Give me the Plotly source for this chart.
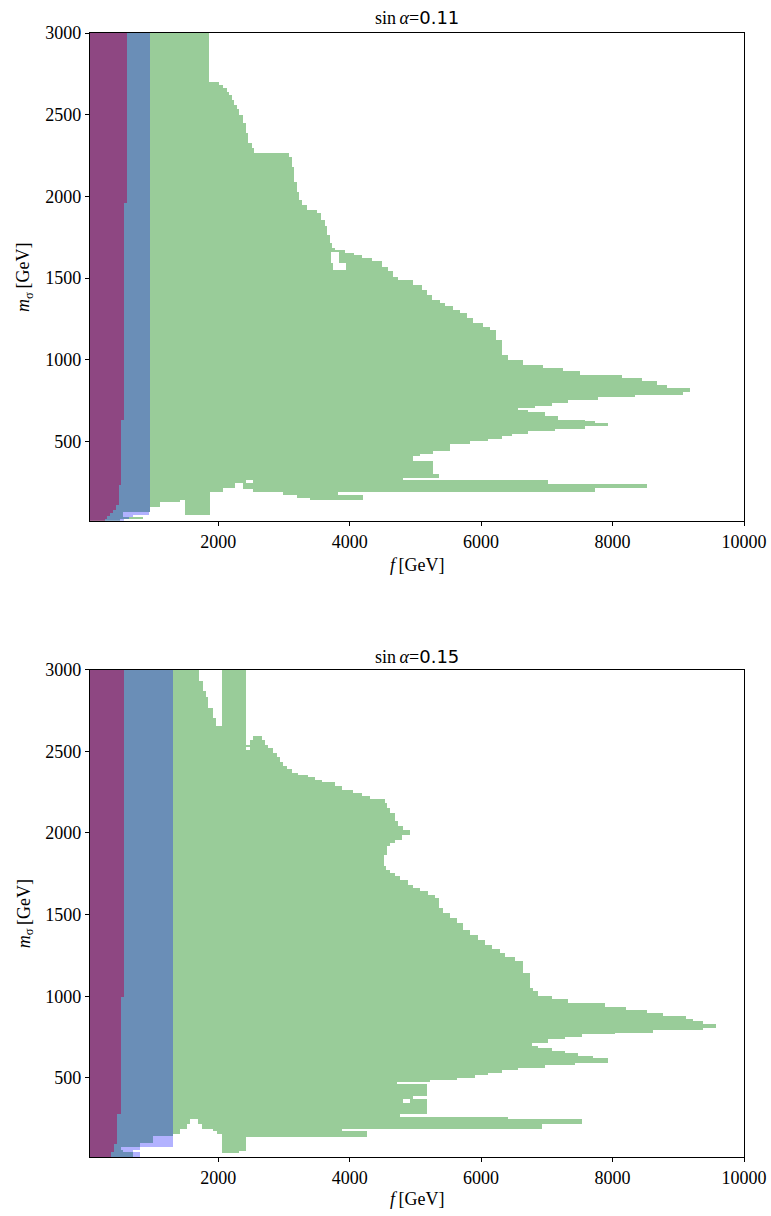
import plotly.graph_objects as go

# ---------------- data (GeV) ----------------
# Panel 1 (sin alpha = 0.11): green region, right edge staircase (row tops, descending)
g1_top = [3000, 2702, 2682, 2662, 2641, 2621, 2590, 2560, 2533, 2499, 2448, 2387, 2325, 2295, 2268, 2244,
          2183, 2091, 2030, 1979, 1948, 1918, 1897, 1857, 1816, 1765, 1714, 1683, 1673, 1653, 1643, 1622,
          1602, 1571, 1541, 1510, 1490, 1459, 1428, 1398, 1367, 1347, 1327, 1306, 1286, 1255, 1225, 1204,
          1184, 1123, 1031, 1000, 970, 950, 929, 909, 888, 868, 848, 827, 801, 786, 770, 752, 736, 719,
          705, 695, 678, 654, 634, 623, 613, 593, 576, 562, 546, 532, 518, 501, 487, 440, 426, 412, 379, 300]
g1_right = [1865, 2017, 2078, 2129, 2164, 2205, 2240, 2281, 2321, 2372, 2418, 2458, 2509, 2545, 3082, 3117,
            3153, 3204, 3234, 3270, 3350, 3508, 3559, 3625, 3660, 3700, 3736, 3777, 3929, 4066, 4182, 4334,
            4486, 4588, 4664, 4740, 4968, 5095, 5170, 5247, 5373, 5450, 5576, 5678, 5779, 5880, 6033, 6134,
            6225, 6311, 6413, 6641, 6945, 7250, 7503, 8137, 8441, 8669, 8821, 9176, 9075, 8340, 7782, 7325,
            7072, 6818, 6565, 6717, 6970, 7173, 7579, 7731, 7934, 7579, 7122, 6717, 6463, 6311, 6109, 5830,
            5526, 5272, 5069, 4968, 5272, 5363]
g1_end = 277
g1_holes = [(1592, 1663, 3711, 3843), (1551, 1592, 3751, 3944)]
g1_low_edges = [277, 262, 246, 240, 216, 210, 189, 171, 155, 145, 130, 97, 67, 53, 40, 25, 0]
g1_low_segs = [
    [(0, 4816)],
    [(0, 2423), (2534, 7021)],
    [(0, 2256), (2382, 7021)],
    [(0, 2256), (2382, 8517)],
    [(0, 2078), (2382, 7731)],
    [(0, 2078), (2534, 7731)],
    [(0, 1875), (2991, 3827)],
    [(0, 1875), (3194, 4208)],
    [(0, 1875), (3397, 4208)],
    [(0, 1419), (1495, 1875)],
    [(0, 1115), (1495, 1875)],
    [(0, 963), (1495, 1875)],
    [(0, 557), (1495, 1875)],
    [(0, 557)],
    [(0, 860)],
    [(0, 500)],
]
b1_top = [3000, 67, 53, 40, 25]
b1_right = [963, 950, 700, 650, 560]
r1_top = [3000, 1959, 634, 236, 114, 83, 63, 42, 25]
r1_right = [618, 567, 519, 486, 446, 395, 354, 304, 273]

# Panel 2 (sin alpha = 0.15)
g2_top = [3000, 2660, 2596, 2572, 2541, 2521, 2490, 2470, 2439, 2413, 2393, 2372, 2358, 2344, 2327, 2311,
          2287, 2266, 2246, 2230, 2209, 2185, 2154, 2124, 2073, 2042, 2022, 1991, 1961, 1940, 1920, 1869,
          1797, 1777, 1757, 1736, 1712, 1685, 1665, 1645, 1624, 1604, 1543, 1512, 1481, 1451, 1410, 1379,
          1349, 1318, 1288, 1267, 1243, 1216, 1145, 1053, 1033, 1002, 982, 958, 937, 917, 901, 880, 864,
          850, 834, 809, 793, 778, 768, 752, 738, 717, 697, 687, 666, 652, 636, 621, 595, 581, 564, 548,
          534, 519, 503, 489]
g2_right = [2418, 2418, 2661, 2712, 2762, 2828, 2889, 2940, 2980, 3041, 3117, 3219, 3371, 3472, 3574, 3777,
            3878, 4056, 4182, 4309, 4537, 4573, 4613, 4689, 4740, 4806, 4917, 4791, 4689, 4613, 4562, 4522,
            4552, 4613, 4689, 4765, 4892, 4968, 5069, 5196, 5298, 5363, 5424, 5525, 5627, 5728, 5830, 5956,
            6058, 6160, 6286, 6362, 6514, 6641, 6742, 6793, 6869, 7072, 7325, 7883, 8212, 8517, 8770, 9125,
            9226, 9378, 9581, 9378, 8618, 8035, 7528, 7275, 7021, 6767, 6869, 7072, 7275, 7477, 7705, 7933,
            7427, 6970, 6565, 6311, 6108, 5906, 5627, 5221]
g2_end = 477
g2_holes = [(2935, 3000, 1713, 2053), (2874, 2935, 1764, 2053), (2833, 2874, 1814, 2053),
            (2766, 2833, 1850, 2053), (2704, 2766, 1916, 2053), (2660, 2704, 1967, 2053),
            (2572, 2596, 2418, 2535), (2541, 2572, 2418, 2484), (2511, 2527, 2418, 2484)]
g2_low_edges = [477, 465, 391, 370, 346, 279, 259, 248, 218, 191, 187, 173, 157, 146, 142, 100, 75, 60, 55,
                45, 41, 0]
g2_low_segs = [
    [(0, 4715)],
    [(0, 5171)],
    [(0, 4968)],
    [(0, 4810), (4917, 5171)],
    [(0, 5171)],
    [(0, 4765)],
    [(0, 6412)],
    [(0, 1571), (1698, 7528)],
    [(0, 1520), (1749, 6920)],
    [(0, 1520), (1749, 3878)],
    [(0, 1419), (1926, 3878)],
    [(0, 1419), (1977, 4258)],
    [(0, 1318), (2053, 4258)],
    [(0, 1013), (2053, 4258)],
    [(0, 1013), (2053, 2423)],
    [(0, 811), (2053, 2423)],
    [(0, 517), (2053, 2423)],
    [(0, 557), (2053, 2423)],
    [(0, 557), (2053, 2322)],
    [(0, 709), (2053, 2322)],
    [(0, 709)],
]
b2_top = [3000, 75, 60, 45]
b2_right = [1318, 811, 709, 811]
r2_top = [3000, 998, 279, 96, 45]
r2_right = [567, 517, 466, 415, 364]

titles = ["sin\u2009<i>\u03b1</i>=<span style='font-family:DejaVu Sans'>0.11</span>",
          "sin\u2009<i>\u03b1</i>=<span style='font-family:DejaVu Sans'>0.15</span>"]
x_ticks = [2000, 4000, 6000, 8000, 10000]
y_ticks = [500, 1000, 1500, 2000, 2500, 3000]

GREEN = "rgba(0,128,0,0.4)"
RED = "rgba(255,0,0,0.5)"
BLUE = "rgba(0,0,255,0.3)"


# ---------------- helpers ----------------
def stair_rows(tops, rights, end, holes=()):
    edges = list(tops) + [end]
    rows = [(edges[i + 1], edges[i], [(0, f)]) for i, f in enumerate(rights)]
    for (hlo, hhi, flo, fhi) in holes:
        new = []
        for (lo, hi, segs) in rows:
            if hi <= hlo or lo >= hhi:
                new.append((lo, hi, segs))
                continue
            if lo < hlo:
                new.append((lo, hlo, segs))
            cut = []
            for (s0, s1) in segs:
                if s1 <= flo or s0 >= fhi:
                    cut.append((s0, s1))
                else:
                    if s0 < flo:
                        cut.append((s0, flo))
                    if s1 > fhi:
                        cut.append((fhi, s1))
            new.append((max(lo, hlo), min(hi, hhi), cut))
            if hi > hhi:
                new.append((hhi, hi, segs))
        rows = new
    return rows


def list_rows(edges, segs):
    return [(edges[i + 1], edges[i], s) for i, s in enumerate(segs)]


def bars(rows, color, xa, ya):
    yc, w, base, length = [], [], [], []
    for lo, hi, segs in rows:
        for s0, s1 in segs:
            yc.append((lo + hi) / 2)
            w.append(hi - lo)
            base.append(s0)
            length.append(s1 - s0)
    return go.Bar(orientation="h", y=yc, x=length, base=base, width=w,
                  marker=dict(color=color, line=dict(width=0)),
                  xaxis=xa, yaxis=ya, showlegend=False, hoverinfo="skip")


fig = go.Figure()
panels = [
    (stair_rows(g1_top, g1_right, g1_end, g1_holes) + list_rows(g1_low_edges, g1_low_segs),
     stair_rows(r1_top, r1_right, 0), stair_rows(b1_top, b1_right, 0), "x", "y"),
    (stair_rows(g2_top, g2_right, g2_end, g2_holes) + list_rows(g2_low_edges, g2_low_segs),
     stair_rows(r2_top, r2_right, 0), stair_rows(b2_top, b2_right, 0), "x2", "y2"),
]
for g_rows, r_rows, b_rows, xa, ya in panels:
    fig.add_trace(bars(g_rows, GREEN, xa, ya))
    fig.add_trace(bars(r_rows, RED, xa, ya))
    fig.add_trace(bars(b_rows, BLUE, xa, ya))

FONT = "Liberation Serif, DejaVu Serif, serif"
ax_common = dict(showline=True, linecolor="black", linewidth=1.2, mirror=True, ticks="outside",
                 ticklen=4, tickwidth=1, tickcolor="black", showgrid=False, zeroline=False,
                 automargin=False, tickformat="d",
                 tickfont=dict(family=FONT, size=18, color="black"))
fig.update_layout(
    width=771, height=1216, plot_bgcolor="white", paper_bgcolor="white",
    margin=dict(l=90, r=27, t=33, b=58.5, autoexpand=False), barmode="overlay", bargap=0,
    xaxis=dict(domain=[0, 1], range=[50, 10000], tickvals=x_ticks, anchor="y", **ax_common),
    yaxis=dict(domain=[0.566, 1], range=[15, 3000], tickvals=y_ticks, anchor="x", **ax_common),
    xaxis2=dict(domain=[0, 1], range=[50, 10000], tickvals=x_ticks, anchor="y2", **ax_common),
    yaxis2=dict(domain=[0, 0.4335], range=[15, 3000], tickvals=y_ticks, anchor="x2", **ax_common),
)

ann_font = dict(family=FONT, size=18, color="black")
for title, yt, yx, ym in [(titles[0], 1.0142, 0.5269, 0.783), (titles[1], 0.4455, -0.0378, 0.2168)]:
    fig.add_annotation(text=title, xref="paper", yref="paper", x=0.5, y=yt, showarrow=False,
                       xanchor="center", yanchor="middle", font=ann_font)
    fig.add_annotation(text="<i>f</i>\u2009[GeV]", xref="paper", yref="paper", x=0.5, y=yx,
                       showarrow=False, xanchor="center", yanchor="middle", font=ann_font)
    fig.add_annotation(text="<i>m</i><sub>\u03c3</sub>\u2009[GeV]", xref="paper", yref="paper",
                       x=-0.0994, y=ym, showarrow=False, textangle=-90, xanchor="center",
                       yanchor="middle", font=ann_font)

fig.write_html("out.html", config={"displayModeBar": False},
               post_script="document.body.style.margin='0';document.body.style.overflow='hidden';")
